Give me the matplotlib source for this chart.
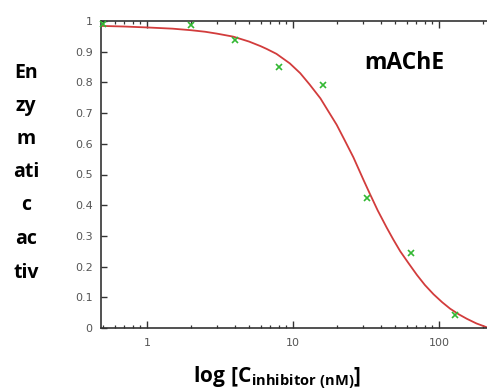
import matplotlib
matplotlib.use("Agg")
import matplotlib.pyplot as plt
from matplotlib.ticker import FixedLocator, NullFormatter

# measured data points
conc = [0.5, 2, 4, 8, 16, 32, 64, 128]
activity = [0.99, 0.987, 0.937, 0.849, 0.793, 0.4225, 0.245, 0.043]

# fitted curve
fit_conc = [0.484, 0.7, 1.0, 1.5, 2.0, 2.5, 3.0, 3.9, 5.0, 6.0, 6.6, 7.7, 9.5,
            11.2, 13.0, 15.4, 17.5, 19.9, 22.5, 25.9, 28.0, 30.4, 33.6, 38.0,
            43.8, 48.5, 54.2, 61.6, 70.5, 80.0, 91.6, 105, 119, 136, 155, 180, 213]
fit_act = [0.984, 0.982, 0.979, 0.975, 0.970, 0.965, 0.959, 0.949, 0.933, 0.918,
           0.909, 0.893, 0.862, 0.830, 0.793, 0.748, 0.705, 0.662, 0.613, 0.556,
           0.520, 0.482, 0.437, 0.383, 0.327, 0.289, 0.250, 0.212, 0.173, 0.140,
           0.110, 0.084, 0.063, 0.045, 0.030, 0.015, 0.002]

y_ticks = [0, 0.1, 0.2, 0.3, 0.4, 0.5, 0.6, 0.7, 0.8, 0.9, 1.0]
y_tick_labels = ["0", "0.1", "0.2", "0.3", "0.4", "0.5", "0.6", "0.7", "0.8", "0.9", "1"]
x_ticks = [1, 10, 100]
x_tick_labels = ["1", "10", "100"]
x_minor = [m * d for d in (0.1, 1, 10, 100) for m in range(2, 10)]

ylabel_lines = ["En", "zy", "m", "ati", "c", "ac", "tiv"]

plt.rcParams["mathtext.fontset"] = "custom"
plt.rcParams["mathtext.bf"] = "Open Sans:bold"
plt.rcParams["mathtext.rm"] = "Open Sans"

W, H = 487, 392
fig = plt.figure(figsize=(W / 100, H / 100), dpi=100)
ax = fig.add_axes([101 / W, 1 - 328 / H, (W - 101) / W, (328 - 21) / H])

ax.plot(fit_conc, fit_act, color="#d23c3c", lw=1.3, zorder=2,
        solid_joinstyle="round")
ax.plot(conc, activity, linestyle="none", marker="x", color="#33b833",
        markersize=4, mew=1.2, zorder=3, clip_on=False)

ax.set_xscale("log")
ax.set_xlim(0.484, 213)
ax.set_ylim(0, 1)

ax.xaxis.set_major_locator(FixedLocator(x_ticks))
ax.set_xticklabels(x_tick_labels)
ax.xaxis.set_minor_locator(FixedLocator(x_minor))
ax.xaxis.set_minor_formatter(NullFormatter())
ax.set_yticks(y_ticks)
ax.set_yticklabels(y_tick_labels)

for s in ["left", "bottom", "top"]:
    ax.spines[s].set_color("#333333")
    ax.spines[s].set_linewidth(1.2)
ax.spines["right"].set_visible(False)

ax.tick_params(axis="x", which="major", direction="in", length=5, width=1,
               top=True, bottom=True, color="#333333", labelsize=8,
               labelcolor="#555555", pad=7)
ax.tick_params(axis="x", which="minor", direction="in", length=2.5, width=0.9,
               top=True, bottom=True, color="#333333")
ax.tick_params(axis="y", which="major", direction="in", length=4, width=1,
               left=True, right=False, color="#333333", labelsize=8,
               labelcolor="#555555", pad=6)
for lab in ax.get_xticklabels() + ax.get_yticklabels():
    lab.set_family("DejaVu Sans")

# y label as stacked text lines
baselines = [78, 111, 144, 177, 210, 244, 278]
for txt, yb in zip(ylabel_lines, baselines):
    fig.text(26 / W, 1 - yb / H, txt, ha="center", va="baseline",
             fontsize=14, fontweight="bold", family="Open Sans", color="black")

ax.text(0.785, 0.862, "mAChE", transform=ax.transAxes, ha="center", va="center",
        fontsize=16.5, fontweight="bold", family="Open Sans", color="black")

fig.text(277 / W, 1 - 382 / H, r"$\mathbf{log\ [C_{inhibitor\ (nM)}]}$",
         ha="center", va="baseline", fontsize=15, color="black")

fig.savefig("out.png", dpi=100)
